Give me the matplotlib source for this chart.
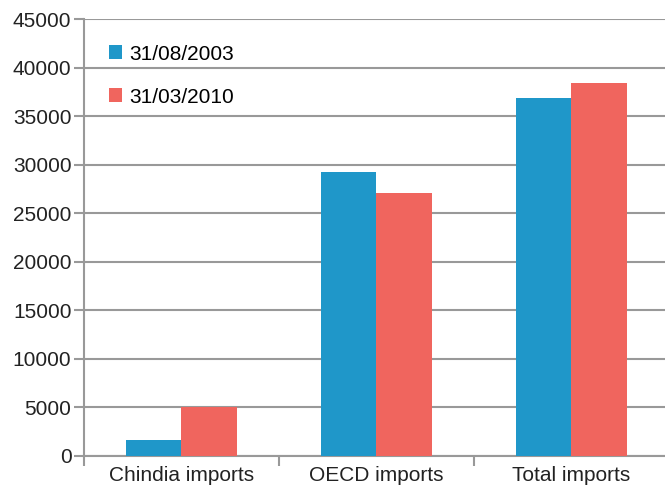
import matplotlib.pyplot as plt
import numpy as np

categories = ['Chindia imports', 'OECD imports', 'Total imports']
series_names = ['31/08/2003', '31/03/2010']
vals_2003 = [1650, 29300, 36900]
vals_2010 = [5000, 27100, 38400]
yticks = list(range(0, 45001, 5000))

plt.rcParams['font.family'] = ['Liberation Sans', 'DejaVu Sans']

fig = plt.figure(figsize=(6.65, 4.92), dpi=100)
ax = fig.add_axes([0.1263, 0.0732, 0.8797, 0.8876])

x = np.arange(len(categories))
w = 0.287
ax.bar(x - w / 2, vals_2003, w, color='#1f97c9', label=series_names[0], zorder=3)
ax.bar(x + w / 2, vals_2010, w, color='#f0655e', label=series_names[1], zorder=3)

ax.set_xlim(-0.5, 2.5)
ax.set_ylim(0, 45000)
ax.set_yticks(yticks)
ax.yaxis.grid(True, color='#999999', linewidth=1.5, zorder=0)
ax.set_xticks(x)
ax.set_xticklabels(categories)
ax.set_xticks([-0.5, 0.5, 1.5, 2.5], minor=True)
ax.tick_params(axis='x', which='major', length=0, pad=7, labelsize=15, labelcolor='#222222')
ax.tick_params(axis='x', which='minor', length=7, width=1.5, color='#999999')
ax.tick_params(axis='y', length=7, width=1.5, color='#999999', labelsize=15, labelcolor='#222222', pad=2)

for s in ['top', 'right']:
    ax.spines[s].set_visible(False)
for s in ['left', 'bottom']:
    ax.spines[s].set_color('#999999')
    ax.spines[s].set_linewidth(1.5)

ax.legend(loc='upper left', bbox_to_anchor=(0.01, 0.985), frameon=False, fontsize=15,
          handlelength=0.65, handleheight=0.65, handletextpad=0.35, labelspacing=1.15)

fig.savefig('out.png', dpi=100)
